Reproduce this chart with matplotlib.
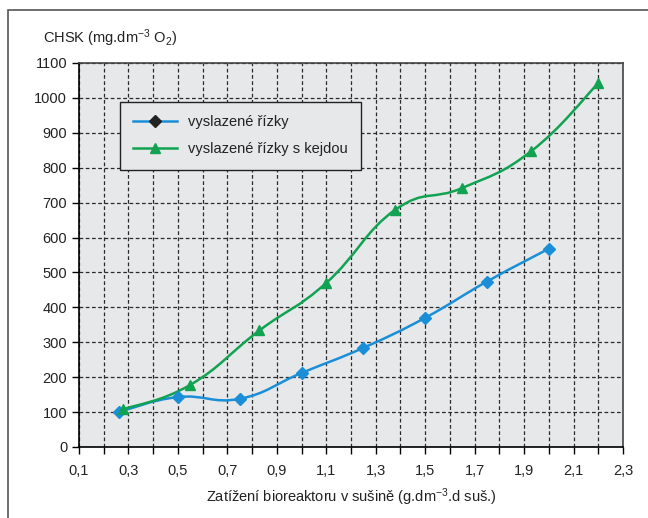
import matplotlib.pyplot as plt
import numpy as np
from matplotlib.path import Path
from matplotlib.patches import PathPatch, Rectangle
from matplotlib.lines import Line2D

plt.rcParams['font.family'] = ['Liberation Sans', 'DejaVu Sans']
plt.rcParams['mathtext.fontset'] = 'custom'
plt.rcParams['mathtext.rm'] = 'Liberation Sans'
plt.rcParams['mathtext.it'] = 'Liberation Sans:italic'
plt.rcParams['mathtext.bf'] = 'Liberation Sans:bold'

# Data
x_rizky = [0.26, 0.50, 0.75, 1.00, 1.25, 1.50, 1.75, 2.00]
y_rizky = [100, 143, 138, 212, 284, 370, 474, 568]

x_kejda = [0.28, 0.55, 0.83, 1.10, 1.38, 1.65, 1.93, 2.20]
y_kejda = [108, 178, 334, 470, 680, 742, 848, 1042]

labels = ['vyslazené řízky', 'vyslazené řízky s kejdou']
blue = '#1a8fd8'
green = '#12a352'
bg = '#e7e8ea'
fs = 10.5


def smooth_path(xs, ys, k=4.5):
    # Catmull-Rom style curve through the points, as Bezier segments (Excel-like smoothing)
    p = np.column_stack([xs, ys]).astype(float)
    n = len(p)
    verts = [p[0]]
    codes = [Path.MOVETO]
    for i in range(n - 1):
        p0 = p[i - 1] if i > 0 else p[i]
        p1, p2 = p[i], p[i + 1]
        p3 = p[i + 2] if i + 2 < n else p[i + 1]
        c1 = p1 + (p2 - p0) / k
        c2 = p2 - (p3 - p1) / k
        verts += [c1, c2, p2]
        codes += [Path.CURVE4] * 3
    return Path(verts, codes)


fig = plt.figure(figsize=(6.48, 5.18), dpi=100)
ax = fig.add_axes([0.1219, 0.1371, 0.8395, 0.7413])
ax.set_facecolor(bg)

for xs, ys, c, m, ms in [(x_rizky, y_rizky, blue, 'D', 6.5),
                         (x_kejda, y_kejda, green, '^', 7.5)]:
    ax.add_patch(PathPatch(smooth_path(xs, ys), fill=False, edgecolor=c,
                           lw=1.8, zorder=3))
    ax.plot(xs, ys, ls='none', marker=m, ms=ms, color=c, zorder=4)

ax.set_xlim(0.1, 2.3)
ax.set_ylim(0, 1100)
ax.set_xticks(np.arange(0.1, 2.31, 0.2))
ax.set_xticklabels([f'{v:.1f}'.replace('.', ',') for v in np.arange(0.1, 2.31, 0.2)])
ax.set_xticks(np.arange(0.2, 2.3, 0.2), minor=True)
ax.set_yticks(np.arange(0, 1101, 100))
ax.tick_params(axis='both', which='both', direction='out', labelsize=fs,
               length=5, width=1, color='black', labelcolor='#222222')
ax.tick_params(axis='x', pad=7)

ax.grid(True, which='both', color='#2a2a2a', ls=(0, (3, 2)), lw=0.9)
ax.set_axisbelow(True)
for s in ['left', 'bottom']:
    ax.spines[s].set_color('black')
    ax.spines[s].set_linewidth(1.2)
for s in ['top', 'right']:
    ax.spines[s].set_color('#444444')
    ax.spines[s].set_linewidth(1.2)

ax.set_xlabel('Zatížení bioreaktoru v sušině (g.dm$^{-3}$.d suš.)', fontsize=fs,
              labelpad=6, color='#222222')
fig.text(0.067, 0.905, 'CHSK (mg.dm$^{-3}$ O$_2$)', fontsize=fs, va='bottom',
         color='#222222')

handles = [Line2D([], [], color=blue, lw=1.8, marker='D', ms=6,
                  mfc='#222222', mec='#222222'),
           Line2D([], [], color=green, lw=1.8, marker='^', ms=7)]
leg = ax.legend(handles, labels, loc='upper left', bbox_to_anchor=(0.075, 0.898),
                prop={'size': fs}, frameon=True, fancybox=False, edgecolor='#222222',
                facecolor=bg, framealpha=1, handlelength=3.0, borderpad=0.9,
                labelspacing=0.9, handletextpad=0.8, borderaxespad=0)
leg.get_frame().set_linewidth(1.0)
for t in leg.get_texts():
    t.set_color('#222222')

fig.patches.append(Rectangle((0.012, -0.05), 1.2, 1.031, transform=fig.transFigure,
                             fill=False, edgecolor='#555555', lw=1.2))

fig.savefig('out.png', dpi=100, facecolor='white')
